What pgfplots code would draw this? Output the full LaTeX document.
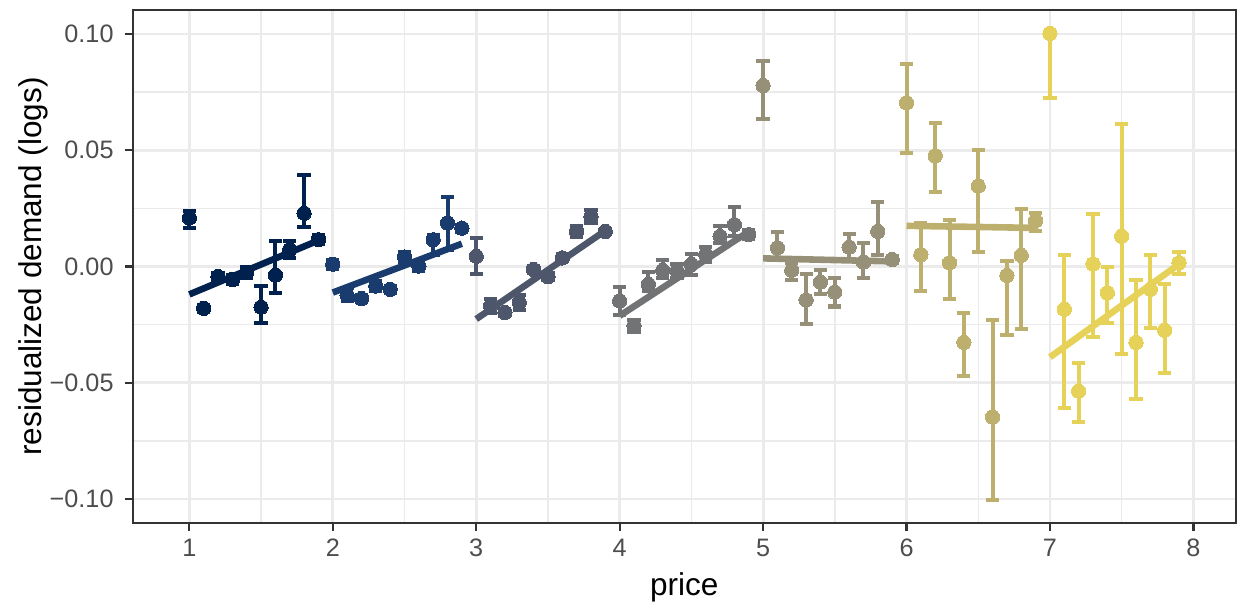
\documentclass[border=0pt]{standalone}
\usepackage{pgfplots}
\pgfplotsset{compat=1.18}
\usepackage{fontspec}
\setmainfont{Liberation Sans}
\definecolor{c1}{HTML}{00204D}
\definecolor{c2}{HTML}{1A3B6E}
\definecolor{c3}{HTML}{4E566C}
\definecolor{c4}{HTML}{727375}
\definecolor{c5}{HTML}{959077}
\definecolor{c6}{HTML}{BDAF6E}
\definecolor{c7}{HTML}{E7D259}
\definecolor{gridc}{HTML}{EBEBEB}
\definecolor{tickc}{HTML}{4D4D4D}
\definecolor{framec}{HTML}{333333}
\pgfplotsset{
  grp/.style={only marks, mark=*, color=#1, mark size=2.5pt,
    mark options={fill=#1, draw=#1, line width=0pt},
    error bars/.cd, y dir=both, y explicit,
    error bar style={line width=1.4pt, #1},
    error mark options={rotate=90, line width=1.4pt, mark size=2.3pt, #1}},
  fit/.style={no marks, line width=2.3pt, color=#1},
}
\begin{document}
\begin{tikzpicture}
\useasboundingbox (0,0) rectangle (432pt,211.1pt);
\begin{axis}[
  at={(46.3pt,28.6pt)}, anchor=south west,
  scale only axis, width=384.9pt, height=179pt,
  xmin=0.605, xmax=8.295, ymin=-0.1103, ymax=0.1103,
  xtick={1,2,3,4,5,6,7,8}, xticklabels={1,2,3,4,5,6,7,8},
  ytick={-0.1,-0.05,0,0.05,0.1}, yticklabels={−0.10,−0.05,0.00,0.05,0.10},
  minor xtick={1.5,2.5,3.5,4.5,5.5,6.5,7.5},
  minor ytick={-0.075,-0.025,0.025,0.075},
  grid=both,
  major grid style={gridc, line width=1.0pt},
  minor grid style={gridc, line width=0.5pt},
  tick align=outside, major tick length=2.75pt, minor tick length=0pt,
  tick style={framec, line width=0.8pt},
  xtick pos=bottom, ytick pos=left,
  axis line style={framec, line width=0.8pt},
  ticklabel style={font=\fontsize{8.8}{10}\selectfont, text=tickc},
  xticklabel style={yshift=0.6pt},
  yticklabel style={xshift=-0.4pt},
  xlabel={price}, ylabel={residualized demand (logs)},
  label style={font=\fontsize{11}{13}\selectfont},
  xlabel style={at={(axis description cs:0.5,-0.1263)}, anchor=center},
  ylabel style={at={(axis description cs:-0.0904,0.5)}, anchor=center},
]
% group 1
\addplot[grp=c1] table[x=x,y=y,y error plus=ep,y error minus=em]{
x y ep em
1.0 0.0209 0.0030 0.0043
1.1 -0.0180 0.0015 0.0015
1.2 -0.0043 0.0015 0.0015
1.3 -0.0056 0.0020 0.0020
1.4 -0.0026 0.0025 0.0025
1.5 -0.0175 0.0093 0.0068
1.6 -0.0037 0.0145 0.0075
1.7 0.0073 0.0035 0.0035
1.8 0.0229 0.0164 0.0060
1.9 0.0115 0.0020 0.0020
};
\addplot[fit=c1] coordinates {(1.0,-0.0120) (1.9,0.0112)};
% group 2
\addplot[grp=c2] table[x=x,y=y,y error plus=ep,y error minus=em]{
x y ep em
2.0 0.0010 0.0020 0.0020
2.1 -0.0124 0.0030 0.0025
2.2 -0.0138 0.0015 0.0015
2.3 -0.0084 0.0020 0.0020
2.4 -0.0098 0.0015 0.0015
2.5 0.0041 0.0020 0.0020
2.6 0.0002 0.0020 0.0020
2.7 0.0115 0.0020 0.0065
2.8 0.0187 0.0114 0.0114
2.9 0.0165 0.0015 0.0015
};
\addplot[fit=c2] coordinates {(2.0,-0.0112) (2.9,0.0098)};
% group 3
\addplot[grp=c3] table[x=x,y=y,y error plus=ep,y error minus=em]{
x y ep em
3.0 0.0044 0.0078 0.0078
3.1 -0.0170 0.0030 0.0030
3.2 -0.0198 0.0015 0.0015
3.3 -0.0155 0.0033 0.0033
3.4 -0.0013 0.0015 0.0015
3.5 -0.0044 0.0015 0.0015
3.6 0.0037 0.0015 0.0015
3.7 0.0151 0.0025 0.0025
3.8 0.0215 0.0028 0.0028
3.9 0.0151 0.0012 0.0012
};
\addplot[fit=c3] coordinates {(3.0,-0.0226) (3.9,0.0154)};
% group 4
\addplot[grp=c4] table[x=x,y=y,y error plus=ep,y error minus=em]{
x y ep em
4.0 -0.0148 0.0058 0.0062
4.1 -0.0255 0.0025 0.0025
4.2 -0.0077 0.0052 0.0030
4.3 -0.0017 0.0047 0.0031
4.4 -0.0020 0.0030 0.0030
4.5 0.0009 0.0045 0.0045
4.6 0.0051 0.0035 0.0033
4.7 0.0130 0.0043 0.0030
4.8 0.0180 0.0075 0.0050
4.9 0.0137 0.0020 0.0020
};
\addplot[fit=c4] coordinates {(4.0,-0.0212) (4.9,0.0150)};
% group 5
\addplot[grp=c5] table[x=x,y=y,y error plus=ep,y error minus=em]{
x y ep em
5.0 0.0778 0.0104 0.0143
5.1 0.0080 0.0067 0.0050
5.2 -0.0016 0.0030 0.0042
5.3 -0.0144 0.0113 0.0104
5.4 -0.0067 0.0054 0.0050
5.5 -0.0110 0.0059 0.0062
5.6 0.0083 0.0055 0.0053
5.7 0.0019 0.0082 0.0067
5.8 0.0151 0.0128 0.0100
5.9 0.0030 0.0015 0.0015
};
\addplot[fit=c5] coordinates {(5.0,0.0035) (5.9,0.0022)};
% group 6
\addplot[grp=c6] table[x=x,y=y,y error plus=ep,y error minus=em]{
x y ep em
6.0 0.0704 0.0166 0.0214
6.1 0.0051 0.0136 0.0156
6.2 0.0476 0.0142 0.0157
6.3 0.0016 0.0182 0.0157
6.4 -0.0326 0.0125 0.0145
6.5 0.0346 0.0154 0.0285
6.6 -0.0647 0.0418 0.0356
6.7 -0.0038 0.0061 0.0256
6.8 0.0048 0.0200 0.0317
6.9 0.0197 0.0035 0.0043
};
\addplot[fit=c6] coordinates {(6.0,0.0175) (6.9,0.0166)};
% group 7
\addplot[grp=c7] table[x=x,y=y,y error plus=ep,y error minus=em]{
x y ep em
7.0 0.1003 0.0000 0.0279
7.1 -0.0184 0.0232 0.0424
7.2 -0.0536 0.0121 0.0132
7.3 0.0011 0.0214 0.0316
7.4 -0.0113 0.0112 0.0132
7.5 0.0130 0.0481 0.0506
7.6 -0.0326 0.0268 0.0242
7.7 -0.0098 0.0146 0.0167
7.8 -0.0274 0.0197 0.0185
7.9 0.0016 0.0047 0.0050
};
\addplot[fit=c7] coordinates {(7.0,-0.0390) (7.9,0.0010)};
\end{axis}
\end{tikzpicture}
\end{document}
